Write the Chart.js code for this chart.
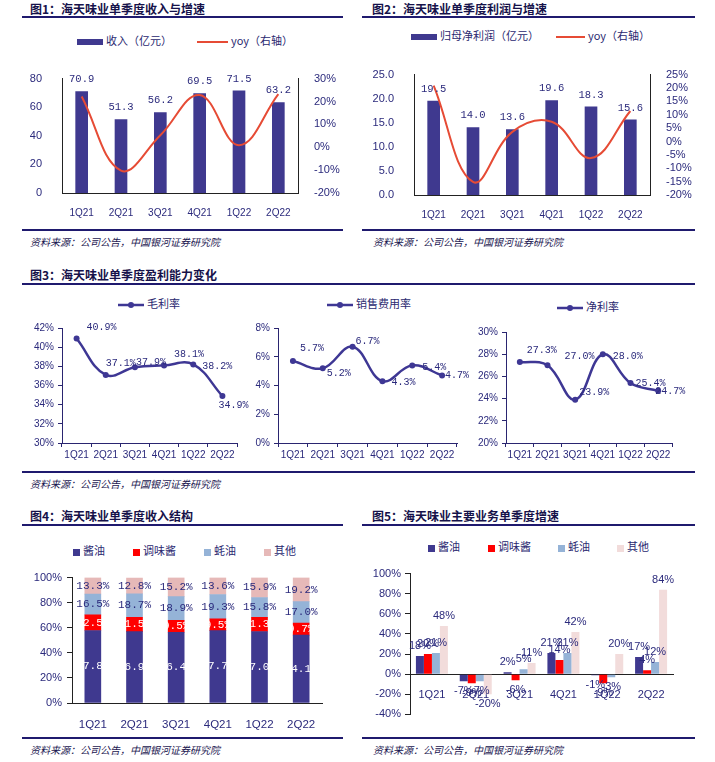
<!DOCTYPE html>
<html lang="zh-CN">
<head>
<meta charset="UTF-8">
<title>海天味业单季度经营数据</title>
<script src="https://cdn.jsdelivr.net/npm/chart.js"></script>
<style>
  body { margin: 0; background: #fff; }
  #page { position: relative; width: 715px; height: 762px; overflow: hidden; font-family: 'Noto Sans CJK SC', sans-serif; }
  .title { position: absolute; font-size: 12px; font-weight: bold; color: #16124a; line-height: 14px; white-space: nowrap; }
  .rule { position: absolute; height: 2px; background: #1f1a6e; }
  .src { position: absolute; font-size: 10px; font-style: italic; color: #1a1650; line-height: 12px; white-space: nowrap; }
  .box { position: absolute; }
  .lg { position: absolute; font-size: 11px; color: #2a2870; line-height: 12px; white-space: nowrap; }
  .sw { display: inline-block; vertical-align: middle; margin-right: 3px; }
</style>
</head>
<body>
<div id="page">
  <!-- 图1 -->
  <div class="title" style="left:30px;top:2px">图1：海天味业单季度收入与增速</div>
  <div class="rule" style="left:22px;top:16px;width:321px"></div>
  <div class="lg" style="left:77px;top:34px"><span class="sw" style="width:26px;height:6px;background:#3F398F"></span>收入（亿元）</div>
  <div class="lg" style="left:197px;top:34px"><span class="sw" style="width:31px;height:2px;background:#E64B35"></span>yoy（右轴）</div>
  <div class="box" style="left:0;top:60px;width:345px;height:160px"><canvas id="c1"></canvas></div>
  <div class="rule" style="left:22px;top:229px;width:321px"></div>
  <div class="src" style="left:30px;top:236px">资料来源：公司公告，中国银河证券研究院</div>

  <!-- 图2 -->
  <div class="title" style="left:372px;top:2px">图2：海天味业单季度利润与增速</div>
  <div class="rule" style="left:362px;top:16px;width:333px"></div>
  <div class="lg" style="left:411px;top:29px"><span class="sw" style="width:26px;height:6px;background:#3F398F"></span>归母净利润（亿元）</div>
  <div class="lg" style="left:556px;top:29px"><span class="sw" style="width:29px;height:2px;background:#E64B35"></span>yoy（右轴）</div>
  <div class="box" style="left:355px;top:56px;width:345px;height:165px"><canvas id="c2"></canvas></div>
  <div class="rule" style="left:362px;top:229px;width:333px"></div>
  <div class="src" style="left:373px;top:236px">资料来源：公司公告，中国银河证券研究院</div>

  <!-- 图3 -->
  <div class="title" style="left:30px;top:268px">图3：海天味业单季度盈利能力变化</div>
  <div class="rule" style="left:22px;top:283px;width:673px"></div>
  <div class="lg" style="left:118px;top:297px"><svg class="sw" width="26" height="8"><line x1="0" y1="4" x2="26" y2="4" stroke="#3E3794" stroke-width="2.5"/><circle cx="13" cy="4" r="3" fill="#3E3794"/></svg>毛利率</div>
  <div class="lg" style="left:327px;top:297px"><svg class="sw" width="26" height="8"><line x1="0" y1="4" x2="26" y2="4" stroke="#3E3794" stroke-width="2.5"/><circle cx="13" cy="4" r="3" fill="#3E3794"/></svg>销售费用率</div>
  <div class="lg" style="left:557px;top:300px"><svg class="sw" width="26" height="8"><line x1="0" y1="4" x2="26" y2="4" stroke="#3E3794" stroke-width="2.5"/><circle cx="13" cy="4" r="3" fill="#3E3794"/></svg>净利率</div>
  <div class="box" style="left:0;top:318px;width:250px;height:150px"><canvas id="c3a"></canvas></div>
  <div class="box" style="left:245px;top:318px;width:225px;height:150px"><canvas id="c3b"></canvas></div>
  <div class="box" style="left:470px;top:322px;width:225px;height:146px"><canvas id="c3c"></canvas></div>
  <div class="rule" style="left:22px;top:471px;width:673px"></div>
  <div class="src" style="left:30px;top:478px">资料来源：公司公告，中国银河证券研究院</div>

  <!-- 图4 -->
  <div class="title" style="left:30px;top:509px">图4：海天味业单季度收入结构</div>
  <div class="rule" style="left:22px;top:524px;width:321px"></div>
  <div class="lg" style="left:73px;top:544px"><span class="sw" style="width:7px;height:7px;background:#3F398F"></span>酱油</div>
  <div class="lg" style="left:133px;top:544px"><span class="sw" style="width:7px;height:7px;background:#FF0000"></span>调味酱</div>
  <div class="lg" style="left:204px;top:544px"><span class="sw" style="width:7px;height:7px;background:#95B3D7"></span>蚝油</div>
  <div class="lg" style="left:264px;top:544px"><span class="sw" style="width:7px;height:7px;background:#E6B9B8"></span>其他</div>
  <div class="box" style="left:0;top:566px;width:345px;height:170px"><canvas id="c4"></canvas></div>
  <div class="rule" style="left:22px;top:737px;width:321px"></div>
  <div class="src" style="left:30px;top:744px">资料来源：公司公告，中国银河证券研究院</div>

  <!-- 图5 -->
  <div class="title" style="left:372px;top:509px">图5：海天味业主要业务单季度增速</div>
  <div class="rule" style="left:362px;top:524px;width:333px"></div>
  <div class="lg" style="left:428px;top:540px"><span class="sw" style="width:7px;height:7px;background:#3F398F"></span>酱油</div>
  <div class="lg" style="left:488px;top:540px"><span class="sw" style="width:7px;height:7px;background:#FF0000"></span>调味酱</div>
  <div class="lg" style="left:558px;top:540px"><span class="sw" style="width:7px;height:7px;background:#95B3D7"></span>蚝油</div>
  <div class="lg" style="left:617px;top:540px"><span class="sw" style="width:7px;height:7px;background:#F2DCDB"></span>其他</div>
  <div class="box" style="left:355px;top:563px;width:345px;height:162px"><canvas id="c5"></canvas></div>
  <div class="rule" style="left:362px;top:737px;width:333px"></div>
  <div class="src" style="left:373px;top:744px">资料来源：公司公告，中国银河证券研究院</div>
</div>

<script>
// ---- data ----
const quarters = ['1Q21', '2Q21', '3Q21', '4Q21', '1Q22', '2Q22'];

const revenue = [70.9, 51.3, 56.2, 69.5, 71.5, 63.2];        // 亿元
const revenueYoy = [22.2, -10.2, 5.2, 22.8, 0.9, 23.2];      // %

const netProfit = [19.5, 14.0, 13.6, 19.6, 18.3, 15.6];      // 亿元
const netProfitYoy = [20.9, -15.1, 3.6, 7.4, -6.2, 11.4];    // %

const grossMargin = [40.9, 37.1, 37.9, 38.1, 38.2, 34.9];
const sellingRate = [5.7, 5.2, 6.7, 4.3, 5.4, 4.7];
const netMargin = [27.3, 27.0, 23.9, 28.0, 25.4, 24.7];

const shareSoySauce = [57.8, 56.9, 56.4, 57.7, 57.0, 54.1];
const shareSauce = [12.5, 11.5, 9.5, 9.5, 11.3, 9.7];
const shareOyster = [16.5, 18.7, 18.9, 19.3, 15.8, 17.0];
const shareOther = [13.3, 12.8, 15.2, 13.6, 15.9, 19.2];

const growthSoySauce = [18, -7, 2, 21, -1, 17];
const growthSauce = [20, -9, -6, 14, -9, 4];
const growthOyster = [21, -7, 5, 21, -3, 12];
const growthOther = [48, -20, 11, 42, 20, 84];

// label placement tweaks for the margin charts (px)
const grossLabelDx = [25, 15, 16, 25, 24, 11], grossLabelDy = [-11, -12, -5, -11, 2, 9];
const sellLabelDx = [19, 16, 15, 21, 22, 15], sellLabelDy = [-13, 5, -5, 1, 2, 0];
const netLabelDx = [22, 32, 19, 25, 20, 12], netLabelDy = [-12, -9, -7, 2, 0, 1];

// ---- style ----
const NAVY = '#3F398F', RED_LINE = '#E64B35', RED = '#FF0000', LBLUE = '#95B3D7';
const PINK = '#E6B9B8', PINK_LIGHT = '#F2DCDB', PURPLE = '#3E3794';
const TEXT = '#2B2A7C', AXIS = '#222222', AXIS3 = '#2A2570';
const NARROW = "'Liberation Sans Narrow', 'Liberation Sans', Arial, sans-serif";
const MONO = "'Liberation Mono', 'DejaVu Sans Mono', monospace";

Chart.defaults.animation = false;
Chart.defaults.maintainAspectRatio = false;
Chart.defaults.font.family = NARROW;
Chart.defaults.font.size = 11;
Chart.defaults.color = TEXT;
Chart.defaults.plugins.legend.display = false;
Chart.defaults.plugins.tooltip.enabled = false;

const fixW = w => s => { s.width = w; };
const fixH = h => s => { s.height = h; };
const pct = v => v + '%';
const flat = { autoSkip: false, maxRotation: 0, minRotation: 0 };

// draws value labels for datasets that carry a `valueLabel` config
const valueLabels = {
    id: 'valueLabels',
    afterDatasetsDraw(chart) {
        const ctx = chart.ctx;
        chart.data.datasets.forEach((ds, i) => {
            const cfg = ds.valueLabel;
            if (!cfg) return;
            chart.getDatasetMeta(i).data.forEach((el, j) => {
                const v = ds.data[j];
                let x = el.x, y = el.y;
                if (cfg.mode === 'top') y = el.y - cfg.gap;
                else if (cfg.mode === 'center') y = (el.y + el.base) / 2;
                else if (cfg.mode === 'end') y = v >= 0 ? el.y - cfg.gap : el.y + cfg.gap;
                if (cfg.dx) x += cfg.dx[j];
                if (cfg.dy) y += cfg.dy[j];
                ctx.save();
                ctx.font = cfg.font;
                ctx.fillStyle = cfg.color;
                ctx.textAlign = 'center';
                ctx.textBaseline = 'middle';
                ctx.fillText(cfg.format(v), x, y);
                ctx.restore();
            });
        });
    }
};

// ---- 图1 / 图2: bars + yoy line ----
function barYoyChart(id, bars, yoy, leftAxis, rightAxis, dims) {
    return new Chart(document.getElementById(id), {
        type: 'bar',
        data: {
            labels: quarters,
            datasets: [
                { type: 'line', data: yoy, yAxisID: 'y1', borderColor: RED_LINE, borderWidth: 2,
                  pointRadius: 0, tension: 0.4, order: 0 },
                { data: bars, yAxisID: 'y', backgroundColor: NAVY, barThickness: 12, order: 1,
                  valueLabel: { mode: 'top', gap: 12, font: '10.5px ' + MONO, color: TEXT, format: leftAxis.fmt } }
            ]
        },
        options: {
            layout: { padding: { top: 10, left: 0, right: 0, bottom: 0 } },
            scales: {
                x: { grid: { display: false }, border: { color: AXIS },
                     ticks: { ...flat, padding: 6, font: { size: 10 } }, afterFit: fixH(dims.xh) },
                y: { min: leftAxis.min, max: leftAxis.max, grid: { display: false }, border: { color: AXIS },
                     ticks: { autoSkip: false, stepSize: leftAxis.step, padding: 12, callback: leftAxis.tick },
                     afterFit: fixW(dims.lw) },
                y1: { position: 'right', min: rightAxis.min, max: rightAxis.max, grid: { display: false },
                      border: { color: AXIS },
                      ticks: { autoSkip: false, stepSize: rightAxis.step, padding: 8, callback: pct },
                      afterFit: fixW(dims.rw) }
            }
        },
        plugins: [valueLabels]
    });
}

barYoyChart('c1', revenue, revenueYoy,
    { min: 0, max: 80, step: 20, tick: v => v, fmt: v => v.toFixed(1) },
    { min: -20, max: 30, step: 10 }, { xh: 27, lw: 62, rw: 47 });

barYoyChart('c2', netProfit, netProfitYoy,
    { min: 0, max: 25, step: 5, tick: v => v.toFixed(1), fmt: v => v.toFixed(1) },
    { min: -20, max: 25, step: 5 }, { xh: 26, lw: 59, rw: 50 });

// ---- 图3: margin lines ----
function marginChart(id, values, dx, dy, min, max, dims) {
    return new Chart(document.getElementById(id), {
        type: 'line',
        data: {
            labels: quarters,
            datasets: [{
                data: values, borderColor: PURPLE, backgroundColor: PURPLE, borderWidth: 2.5,
                pointRadius: 3, pointBackgroundColor: PURPLE, pointBorderWidth: 0, tension: 0.4,
                valueLabel: { mode: 'point', dx, dy, font: '10px ' + MONO, color: TEXT, format: v => v.toFixed(1) + '%' }
            }]
        },
        options: {
            layout: { padding: { top: 10, left: 0, right: dims.pr, bottom: 0 } },
            scales: {
                x: { offset: true,
                     grid: { display: true, drawOnChartArea: false, tickLength: 4, offset: true, color: AXIS3 },
                     border: { color: AXIS3 }, ticks: { ...flat, padding: 2, font: { size: 10 } }, afterFit: fixH(25) },
                y: { min, max, grid: { display: true, drawOnChartArea: false, tickLength: 4, color: AXIS3 },
                     border: { color: AXIS3 },
                     ticks: { autoSkip: false, stepSize: 2, padding: 4, font: { size: 10 }, callback: pct },
                     afterFit: fixW(dims.lw) }
            }
        },
        plugins: [valueLabels]
    });
}

marginChart('c3a', grossMargin, grossLabelDx, grossLabelDy, 30, 42, { lw: 62, pr: 13 });
marginChart('c3b', sellingRate, sellLabelDx, sellLabelDy, 0, 8, { lw: 33, pr: 13 });
marginChart('c3c', netMargin, netLabelDx, netLabelDy, 20, 30, { lw: 36, pr: 23 });

// ---- 图4: revenue structure (stacked 100%) ----
const shareLabel = color => ({ mode: 'center', font: '11px ' + MONO, color, format: v => v.toFixed(1) + '%' });
new Chart(document.getElementById('c4'), {
    type: 'bar',
    data: {
        labels: quarters,
        datasets: [
            { label: '酱油', data: shareSoySauce, backgroundColor: NAVY, barThickness: 16, valueLabel: shareLabel('#ffffff') },
            { label: '调味酱', data: shareSauce, backgroundColor: RED, barThickness: 16, valueLabel: shareLabel('#ffffff') },
            { label: '蚝油', data: shareOyster, backgroundColor: LBLUE, barThickness: 16, valueLabel: shareLabel(TEXT) },
            { label: '其他', data: shareOther, backgroundColor: PINK, barThickness: 16, valueLabel: shareLabel(TEXT) }
        ]
    },
    options: {
        layout: { padding: { top: 10, left: 0, right: 23, bottom: 0 } },
        scales: {
            x: { stacked: true, grid: { display: false }, border: { color: AXIS },
                 ticks: { ...flat, padding: 7, font: { size: 11.5 } }, afterFit: fixH(33) },
            y: { stacked: true, min: 0, max: 100,
                 grid: { display: true, drawOnChartArea: false, tickLength: 5, color: AXIS }, border: { color: AXIS },
                 ticks: { autoSkip: false, stepSize: 20, padding: 5, callback: pct }, afterFit: fixW(72) }
        }
    },
    plugins: [valueLabels]
});

// ---- 图5: segment growth ----
const growthLabel = { mode: 'end', gap: 10, font: '11px ' + NARROW, color: TEXT, format: pct };
new Chart(document.getElementById('c5'), {
    type: 'bar',
    data: {
        labels: quarters,
        datasets: [
            { label: '酱油', data: growthSoySauce, backgroundColor: NAVY, valueLabel: growthLabel },
            { label: '调味酱', data: growthSauce, backgroundColor: RED, valueLabel: growthLabel },
            { label: '蚝油', data: growthOyster, backgroundColor: LBLUE, valueLabel: growthLabel },
            { label: '其他', data: growthOther, backgroundColor: PINK_LIGHT, valueLabel: growthLabel }
        ]
    },
    options: {
        datasets: { bar: { categoryPercentage: 0.73, barPercentage: 1 } },
        layout: { padding: { top: 10, left: 0, right: 27, bottom: 10 } },
        scales: {
            x: { position: { y: 0 }, z: 1, grid: { display: false }, border: { color: AXIS },
                 ticks: { ...flat, padding: 6, font: { size: 11 } } },
            y: { min: -40, max: 100,
                 grid: { display: true, drawOnChartArea: false, tickLength: 5, color: AXIS }, border: { color: AXIS },
                 ticks: { autoSkip: false, stepSize: 20, padding: 4, callback: pct }, afterFit: fixW(55) }
        }
    },
    plugins: [valueLabels]
});
</script>
</body>
</html>
